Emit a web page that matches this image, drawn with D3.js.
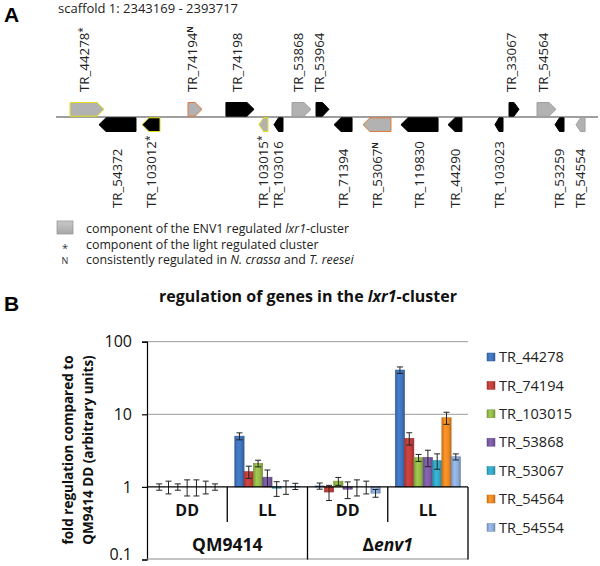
<!DOCTYPE html>
<html>
<head>
<meta charset="utf-8">
<script src="https://cdn.jsdelivr.net/npm/d3@7"></script>
<style>
  html, body { margin: 0; padding: 0; background: #fff; }
  svg { display: block; font-family: "Open Sans", sans-serif; }
</style>
</head>
<body>
<svg id="chart" width="600" height="566"></svg>
<script>
// ---------------- DATA ----------------
const scaffoldName = "scaffold 1";
const scaffoldRange = [2343169, 2393717];

// Panel A genes (positions in kb from scaffold start, estimated)
const geneNames  = ["TR_44278","TR_74194","TR_74198","TR_53868","TR_53964","TR_33067","TR_54564",
                    "TR_54372","TR_103012","TR_103015","TR_103016","TR_71394","TR_53067","TR_119830",
                    "TR_44290","TR_103023","TR_53259","TR_54554"];
const geneStartKb = [1.31, 12.31, 15.85, 22.01, 24.25, 42.25, 44.86,
                     4.01, 8.02, 18.93, 20.33, 25.93, 28.63, 32.17,
                     36.56, 40.94, 46.54, 48.50];
const geneEndKb   = [4.48, 13.62, 18.47, 23.78, 25.46, 43.18, 46.63,
                     7.46, 9.70, 19.77, 21.17, 27.61, 31.24, 35.63,
                     37.86, 41.69, 47.38, 49.34];
const geneStrand  = ["+","+","+","+","+","+","+",
                     "-","-","-","-","-","-","-",
                     "-","-","-","-"];
const geneInCluster = [true, true, false, true, false, false, true,
                       false, false, true, false, false, true, false,
                       false, false, false, true];
// "*" light regulated cluster, "N" consistently regulated, "" none
const geneMark = ["*","N","","","","","",
                  "","*","*","","","N","",
                  "","","",""];

// Panel B
const conditions = ["QM9414 DD","QM9414 LL","Δenv1 DD","Δenv1 LL"];
const lightLabels = ["DD","LL","DD","LL"];
const strainLabels = ["QM9414","Δenv1"];
const seriesNames = ["TR_44278","TR_74194","TR_103015","TR_53868","TR_53067","TR_54564","TR_54554"];
const v_TR_44278  = [1.00, 5.00, 1.03, 40.7];
const v_TR_74194  = [1.00, 1.62, 0.85, 4.67];
const v_TR_103015 = [1.00, 2.11, 1.20, 2.52];
const v_TR_53868  = [1.00, 1.36, 0.93, 2.55];
const v_TR_53067  = [1.00, 0.96, 1.00, 2.30];
const v_TR_54564  = [1.00, 1.00, 1.00, 8.97];
const v_TR_54554  = [1.00, 1.02, 0.82, 2.60];
const e_TR_44278  = [0.10, 0.55, 0.10, 4.2];
const e_TR_74194  = [0.20, 0.31, 0.20, 0.90];
const e_TR_103015 = [0.10, 0.22, 0.15, 0.28];
const e_TR_53868  = [0.25, 0.35, 0.24, 0.65];
const e_TR_53067  = [0.25, 0.22, 0.25, 0.55];
const e_TR_54564  = [0.20, 0.21, 0.20, 1.70];
const e_TR_54554  = [0.10, 0.10, 0.10, 0.25];
const seriesValues = [v_TR_44278, v_TR_74194, v_TR_103015, v_TR_53868, v_TR_53067, v_TR_54564, v_TR_54554];
const seriesErrors = [e_TR_44278, e_TR_74194, e_TR_103015, e_TR_53868, e_TR_53067, e_TR_54564, e_TR_54554];
const yTicks = [0.1, 1, 10, 100];
const seriesColors = ["#3f74bc","#c23e3b","#94b94a","#7b5ca6","#33a9c7","#f08a24","#8eaedb"];

// ---------------- DRAW ----------------
(function () {
const svg = d3.select("#chart");
const defs = svg.append("defs");

// ===== Panel A =====
svg.append("text").attr("x", 4).attr("y", 22).attr("font-size", 21).attr("font-weight", "bold")
  .attr("font-family", "Liberation Sans, Arial, sans-serif").text("A");
svg.append("text").attr("x", 58).attr("y", 13).attr("font-size", 13).attr("fill", "#222")
  .text(`${scaffoldName}: ${scaffoldRange[0]} - ${scaffoldRange[1]}`);

const gx = d3.scaleLinear().domain([0, (scaffoldRange[1] - scaffoldRange[0]) / 1000]).range([56, 598]);
const axisY = 117, geneH = 14;

svg.append("line").attr("x1", gx.range()[0]).attr("x2", gx.range()[1])
  .attr("y1", axisY).attr("y2", axisY).attr("stroke", "#7f7f7f").attr("stroke-width", 1.5);

const genes = geneNames.map((n, i) => ({
  name: n, s: geneStartKb[i], e: geneEndKb[i], strand: geneStrand[i],
  cl: geneInCluster[i], mark: geneMark[i]
}));

function arrowPath(g) {
  const x0 = gx(g.s), x1 = gx(g.e), w = x1 - x0;
  const tip = Math.min(7, w * 0.5);
  let y0, y1;
  if (g.strand === "+") { y0 = axisY - geneH - 0.5; y1 = axisY - 0.8; }
  else { y0 = axisY + 0.8; y1 = axisY + geneH + 0.5; }
  const ym = (y0 + y1) / 2;
  if (g.strand === "+") {
    return `M${x0},${y0}L${x1 - tip},${y0}L${x1},${ym}L${x1 - tip},${y1}L${x0},${y1}Z`;
  } else {
    return `M${x1},${y0}L${x0 + tip},${y0}L${x0},${ym}L${x0 + tip},${y1}L${x1},${y1}Z`;
  }
}
function geneStroke(g) {
  if (g.mark === "*") return "#e3e01a";
  if (g.mark === "N") return "#e07a3a";
  return g.cl ? "#a0a0a0" : "#000";
}
svg.append("g").selectAll("path").data(genes).join("path")
  .attr("d", arrowPath)
  .attr("fill", g => g.cl ? "#b2b2b2" : "#000")
  .attr("stroke", geneStroke)
  .attr("stroke-width", 1);

// gene labels
const lab = svg.append("g").selectAll("text").data(genes).join("text")
  .attr("transform", g => {
    const cx = (gx(g.s) + gx(g.e)) / 2 + (g.strand === "+" ? -3 : 0);
    const yy = g.strand === "+" ? 92 : 208;
    return `translate(${cx},${yy}) rotate(-90)`;
  })
  .attr("dy", "0.36em")
  .attr("font-size", 13.3)
  .attr("fill", "#222");
lab.append("tspan").text(g => g.name);
lab.filter(g => g.mark !== "").append("tspan")
  .attr("dy", g => g.mark === "N" ? -4 : -3)
  .attr("font-size", g => g.mark === "N" ? 8 : 10)
  .attr("font-weight", g => g.mark === "N" ? "bold" : "normal")
  .text(g => g.mark);

// Legend of panel A
const grayGrad = defs.append("linearGradient").attr("id", "grayGrad").attr("x1", 0).attr("y1", 0).attr("x2", 0).attr("y2", 1);
grayGrad.append("stop").attr("offset", "0%").attr("stop-color", "#c8c8c8");
grayGrad.append("stop").attr("offset", "100%").attr("stop-color", "#a8a8a8");
svg.append("rect").attr("x", 57).attr("y", 221).attr("width", 16).attr("height", 13)
  .attr("fill", "url(#grayGrad)").attr("stroke", "#999").attr("stroke-width", 0.8);
svg.append("text").attr("x", 65).attr("y", 252).attr("text-anchor", "middle").attr("font-size", 11).attr("fill", "#333").text("*");
svg.append("text").attr("x", 65).attr("y", 264).attr("text-anchor", "middle").attr("font-size", 9).attr("fill", "#333").text("N");
const l1 = svg.append("text").attr("x", 86).attr("y", 233).attr("font-size", 12.4).attr("fill", "#222");
l1.append("tspan").text("component of the ENV1 regulated ");
l1.append("tspan").attr("font-style", "italic").text("lxr1");
l1.append("tspan").text("-cluster");
svg.append("text").attr("x", 86).attr("y", 248.5).attr("font-size", 12.4).attr("fill", "#222")
  .text("component of the light regulated cluster");
const l3 = svg.append("text").attr("x", 86).attr("y", 264).attr("font-size", 12.4).attr("fill", "#222");
l3.append("tspan").text("consistently regulated in ");
l3.append("tspan").attr("font-style", "italic").text("N. crassa");
l3.append("tspan").text(" and ");
l3.append("tspan").attr("font-style", "italic").text("T. reesei");

// ===== Panel B =====
svg.append("text").attr("x", 4).attr("y", 311).attr("font-size", 21).attr("font-weight", "bold")
  .attr("font-family", "Liberation Sans, Arial, sans-serif").text("B");
const title = svg.append("text").attr("x", 308).attr("y", 302).attr("text-anchor", "middle")
  .attr("font-size", 16).attr("font-weight", "bold").attr("fill", "#111");
title.append("tspan").text("regulation of genes in the ");
title.append("tspan").attr("font-style", "italic").text("lxr1");
title.append("tspan").text("-cluster");

const pLeft = 147, pRight = 468, pTop = 341.7, pBottom = 559.5;
const y = d3.scaleLog().domain([0.1, 100]).range([pBottom, pTop]);
const xg = d3.scaleBand().domain(conditions).range([pLeft, pRight]).padding(0);
const xs = d3.scaleBand().domain(seriesNames).range([0, xg.bandwidth()]).paddingInner(0).paddingOuter(0.81);

// gridlines
svg.append("g").selectAll("line").data([10, 100]).join("line")
  .attr("x1", pLeft).attr("x2", pRight).attr("y1", d => y(d)).attr("y2", d => y(d))
  .attr("stroke", "#9a9a9a").attr("stroke-width", 1);

// y axis
const yAxis = d3.axisLeft(y).tickValues(yTicks).tickFormat(d => String(d)).tickSize(5).tickPadding(10);
const ya = svg.append("g").attr("transform", `translate(${pLeft},0)`).call(yAxis);
ya.select(".domain").attr("stroke", "#000").attr("stroke-width", 1.2);
ya.selectAll(".tick line").attr("stroke", "#000").attr("stroke-width", 1.2);
ya.selectAll(".tick text").attr("font-size", 16).attr("font-family", "Open Sans, sans-serif").attr("fill", "#111")
  .attr("dy", d => d === 0.1 ? "0.02em" : "0.32em");

// gradients for bars
seriesColors.forEach((c, i) => {
  const g = defs.append("linearGradient").attr("id", "bar" + i).attr("x1", 0).attr("x2", 1).attr("y1", 0).attr("y2", 0);
  const base = d3.color(c);
  g.append("stop").attr("offset", "0%").attr("stop-color", base.darker(0.5));
  g.append("stop").attr("offset", "35%").attr("stop-color", base.brighter(0.25));
  g.append("stop").attr("offset", "70%").attr("stop-color", base);
  g.append("stop").attr("offset", "100%").attr("stop-color", base.darker(0.7));
});

const barData = [];
seriesNames.forEach((s, si) => {
  conditions.forEach((c, ci) => {
    barData.push({ s, si, c, v: seriesValues[si][ci], e: seriesErrors[si][ci] });
  });
});

const bars = svg.append("g");
bars.selectAll("rect").data(barData).join("rect")
  .attr("x", d => xg(d.c) + xs(d.s))
  .attr("width", xs.bandwidth())
  .attr("y", d => Math.min(y(d.v), y(1)))
  .attr("height", d => Math.abs(y(d.v) - y(1)))
  .attr("fill", d => `url(#bar${d.si})`)
  .attr("stroke", d => d3.color(seriesColors[d.si]).darker(0.6))
  .attr("stroke-width", 0.6);

// error bars
const eb = svg.append("g").attr("stroke", "#222").attr("stroke-width", 1);
barData.forEach(d => {
  const cx = xg(d.c) + xs(d.s) + xs.bandwidth() / 2;
  const y1 = y(d.v + d.e), y2 = y(Math.max(d.v - d.e, 0.11));
  eb.append("line").attr("x1", cx).attr("x2", cx).attr("y1", y1).attr("y2", y2);
  eb.append("line").attr("x1", cx - 3).attr("x2", cx + 3).attr("y1", y1).attr("y2", y1);
  eb.append("line").attr("x1", cx - 3).attr("x2", cx + 3).attr("y1", y2).attr("y2", y2);
});

// category axis at 1
const y1px = y(1);
svg.append("line").attr("x1", pLeft).attr("x2", pRight).attr("y1", y1px).attr("y2", y1px)
  .attr("stroke", "#000").attr("stroke-width", 1.3);
// bottom line
svg.append("line").attr("x1", pLeft).attr("x2", pRight).attr("y1", pBottom - 0.5).attr("y2", pBottom - 0.5)
  .attr("stroke", "#8a8a8a").attr("stroke-width", 1);
// dividers
const inner = [xg(conditions[1]), xg(conditions[3])];
const outer = [xg(conditions[2]), pRight];
svg.append("g").selectAll("line").data(inner).join("line")
  .attr("x1", d => d).attr("x2", d => d).attr("y1", y1px).attr("y2", 522)
  .attr("stroke", "#000").attr("stroke-width", 1.3);
svg.append("g").selectAll("line").data(outer).join("line")
  .attr("x1", d => d).attr("x2", d => d).attr("y1", y1px).attr("y2", pBottom)
  .attr("stroke", "#000").attr("stroke-width", 1.3);

// category labels
svg.append("g").selectAll("text").data(conditions).join("text")
  .attr("x", d => xg(d) + xg.bandwidth() / 2).attr("y", 516)
  .attr("text-anchor", "middle").attr("font-size", 16).attr("font-weight", "bold").attr("fill", "#111")
  .text((d, i) => lightLabels[i]);
const st = svg.append("g").selectAll("text").data(strainLabels).join("text")
  .attr("x", (d, i) => xg(conditions[i * 2]) + xg.bandwidth())
  .attr("y", 551).attr("text-anchor", "middle").attr("font-size", 17.5).attr("font-weight", "bold").attr("fill", "#111");
st.each(function(d) {
  const t = d3.select(this);
  if (d.startsWith("Δ")) {
    t.append("tspan").text("Δ");
    t.append("tspan").attr("font-style", "italic").text(d.slice(1));
  } else t.text(d);
});

// y title
const yt = svg.append("text").attr("transform", `translate(73,450) rotate(-90)`)
  .attr("text-anchor", "middle").attr("font-size", 13.5).attr("font-weight", "bold").attr("fill", "#111");
yt.append("tspan").attr("x", 0).attr("dy", 0).text("fold regulation compared to");
yt.append("tspan").attr("x", 0).attr("dy", 19.5).text("QM9414 DD (arbitrary units)");

// legend B
const lg = svg.append("g").selectAll("g").data(seriesNames).join("g")
  .attr("transform", (d, i) => `translate(487,${357 + i * 28.4})`);
lg.append("rect").attr("x", 0).attr("y", -4).attr("width", 8).attr("height", 8)
  .attr("fill", (d, i) => `url(#bar${i})`)
  .attr("stroke", (d, i) => d3.color(seriesColors[i]).darker(0.6)).attr("stroke-width", 0.5);
lg.append("text").attr("x", 12).attr("dy", "0.36em").attr("font-size", 14.5).attr("fill", "#222").text(d => d);
})();
</script>
</body>
</html>
